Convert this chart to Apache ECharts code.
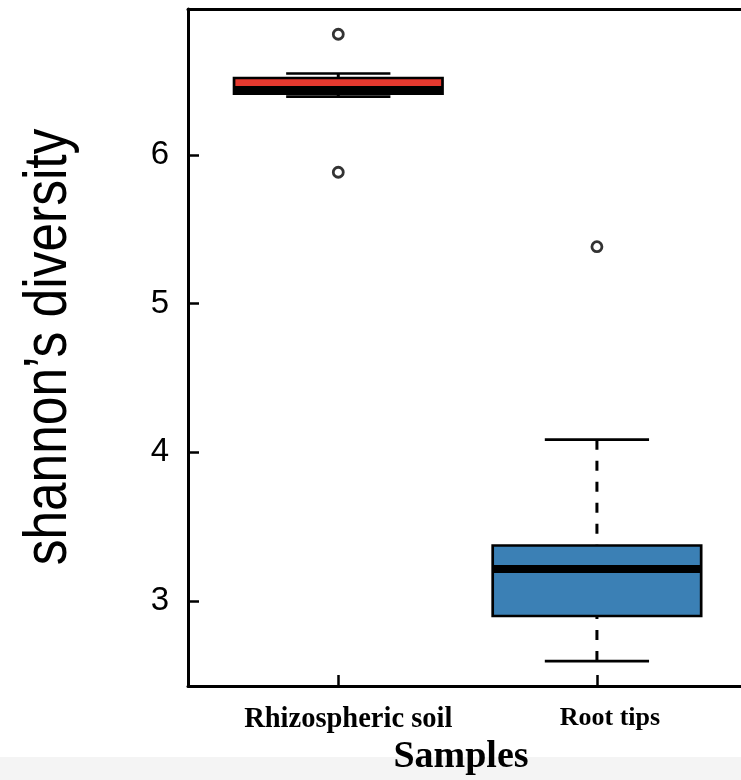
<!DOCTYPE html>
<html>
<head>
<meta charset="utf-8">
<script src="https://cdn.jsdelivr.net/npm/echarts@6/dist/echarts.min.js"></script>
<style>
html,body{margin:0;padding:0;background:#fff;}
#chart{width:741px;height:780px;}
</style>
</head>
<body>
<div id="chart"></div>
<script>
// ---- data ----
const categories = ['Rhizospheric soil', 'Root tips'];
const whiskerLow  = [6.393, 2.596];
const quartile1   = [6.412, 2.899];
const medians     = [6.437, 3.215];
const quartile3   = [6.518, 3.373];
const whiskerHigh = [6.548, 4.085];
const outlierCategory = [0, 0, 1];
const outlierValues   = [6.812, 5.884, 5.383];
const yTickValues = [3, 4, 5, 6];
const xTickValues = [1, 2];
const yAxisTitle = 'shannon’s diversity';
const xAxisTitle = 'Samples';

const boxFill = ['#e5392f', '#3b80b5'];

const boxData = categories.map((c, i) => [i + 1, whiskerLow[i], quartile1[i], medians[i], quartile3[i], whiskerHigh[i]]);
const outlierData = outlierValues.map((v, i) => [outlierCategory[i] + 1, v]);

const chart = echarts.init(document.getElementById('chart'), null, {renderer: 'canvas'});

function renderBox(params, api) {
  const x = api.value(0);
  const lo = api.coord([x, api.value(1)]);
  const q1 = api.coord([x, api.value(2)]);
  const md = api.coord([x, api.value(3)]);
  const q3 = api.coord([x, api.value(4)]);
  const hi = api.coord([x, api.value(5)]);
  const unit = api.size([1, 0])[0];
  const half = unit * 0.403;
  const capHalf = half * 0.5;
  const cx = lo[0];
  const lw = 2.7;
  const dashStyle = {stroke: '#000', lineWidth: 3, lineDash: [10, 11], fill: null};
  const solid = {stroke: '#000', lineWidth: lw, fill: null};
  return {
    type: 'group',
    children: [
      {type: 'line', shape: {x1: cx, y1: hi[1], x2: cx, y2: q3[1]}, style: dashStyle},
      {type: 'line', shape: {x1: cx, y1: lo[1], x2: cx, y2: q1[1]}, style: dashStyle},
      {type: 'line', shape: {x1: cx - capHalf, y1: hi[1], x2: cx + capHalf, y2: hi[1]}, style: solid},
      {type: 'line', shape: {x1: cx - capHalf, y1: lo[1], x2: cx + capHalf, y2: lo[1]}, style: solid},
      {type: 'rect', shape: {x: cx - half, y: q3[1], width: half * 2, height: q1[1] - q3[1]},
        style: {fill: boxFill[params.dataIndex], stroke: '#000', lineWidth: lw}},
      {type: 'line', shape: {x1: cx - half, y1: md[1], x2: cx + half, y2: md[1]},
        style: {stroke: '#000', lineWidth: 8, lineCap: 'butt'}}
    ]
  };
}

const axisLineStyle = {color: '#000', width: 3};

const option = {
  backgroundColor: '#fff',
  animation: false,
  grid: {left: 188, right: 0, top: 9, bottom: 94, containLabel: false},
  xAxis: [
    {
      type: 'value', min: 0.419, max: 2.557, position: 'bottom',
      splitLine: {show: false},
      axisLine: {show: true, onZero: false, lineStyle: axisLineStyle},
      axisTick: {show: true, inside: true, length: 11, customValues: xTickValues, lineStyle: {color: '#000', width: 2.5}},
      axisLabel: {
        show: true, customValues: xTickValues, margin: 19,
        formatter: v => (Math.round(v) === 1 ? '{a|' : '{b|') + (categories[Math.round(v) - 1] || '') + '}',
        fontFamily: "'Liberation Serif', 'Times New Roman', serif",
        fontWeight: 'bold', fontSize: 27, color: '#000', padding: [0, 0, 0, 20],
        rich: {
          a: {fontFamily: "'Liberation Serif', 'Times New Roman', serif", fontWeight: 'bold', fontSize: 28.5, color: '#000'},
          b: {fontFamily: "'Liberation Serif', 'Times New Roman', serif", fontWeight: 'bold', fontSize: 26, color: '#000', padding: [0, 0, 0, 6]}
        }
      }
    },
    {
      type: 'value', min: 0.419, max: 2.557, position: 'top',
      splitLine: {show: false},
      axisLine: {show: true, onZero: false, lineStyle: axisLineStyle},
      axisTick: {show: false}, axisLabel: {show: false}
    }
  ],
  yAxis: {
    type: 'value', min: 2.428, max: 6.982,
    splitLine: {show: false},
    axisLine: {show: true, onZero: false, lineStyle: axisLineStyle},
    axisTick: {show: true, inside: true, length: 11, customValues: yTickValues, lineStyle: {color: '#000', width: 2.5}},
    axisLabel: {
      show: true, customValues: yTickValues, margin: 19,
      fontFamily: "'Liberation Sans', Arial, sans-serif", fontSize: 33, color: '#000'
    }
  },
  graphic: [
    {type: 'rect', z: -10, silent: true, shape: {x: 0, y: 757, width: 741, height: 23}, style: {fill: '#f4f4f4'}},
    {type: 'text', x: 48.5, y: 347, rotation: Math.PI / 2, scaleX: 0.83, silent: true,
      style: {text: yAxisTitle, fill: '#000', align: 'center', verticalAlign: 'middle',
        font: "62px 'Liberation Sans', Arial, sans-serif"}},
    {type: 'text', x: 461, y: 757, silent: true,
      style: {text: xAxisTitle, fill: '#000', align: 'center', verticalAlign: 'middle',
        font: "bold 38px 'Liberation Serif', 'Times New Roman', serif"}}
  ],
  series: [
    {
      type: 'custom', name: 'box', renderItem: renderBox, data: boxData,
      encode: {x: 0, y: [1, 2, 3, 4, 5]}, clip: false, z: 3
    },
    {
      type: 'scatter', name: 'outliers', data: outlierData,
      symbol: 'circle', symbolSize: 10,
      itemStyle: {color: '#fff', borderColor: '#000', borderWidth: 2.8}, z: 4
    }
  ]
};
chart.setOption(option);
</script>
</body>
</html>
